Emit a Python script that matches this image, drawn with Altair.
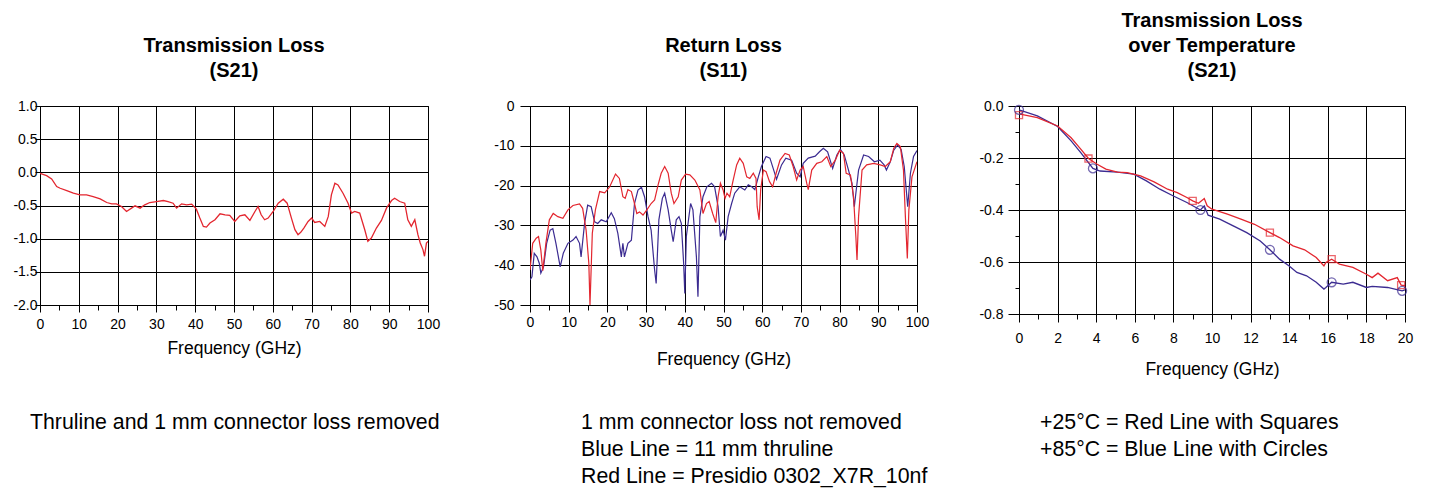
import altair as alt
import pandas as pd

FONT = "Liberation Sans"
RED = "#E3262F"
BLUE = "#3B2B91"

# ---------------- Panel 1: Transmission Loss (S21) ----------------
tl_freq = [0, 1.7, 3, 4.3, 5.2, 6.9, 8.6, 10.3, 12, 13.7,
           15.5, 17.2, 18.5, 19.7, 21, 22.3, 23.6, 24.5, 25.8, 27,
           28.3, 30, 31.8, 33, 34.3, 35.2, 36.5, 37.8, 39.1, 40.3,
           41.2, 42.1, 42.9, 43.8, 45.1, 46.4, 47.7, 48.9, 50.2, 51.5,
           52.8, 54.1, 55.4, 56.2, 57, 57.9, 58.8, 60.1, 61.4, 62.7,
           63.7, 64.8, 65.7, 66.5, 67.2, 68, 69.1, 70, 70.8, 72.1,
           73.4, 74.3, 75.1, 76, 76.8, 78.1, 79.4, 80.3, 81.1, 82.4,
           83.7, 84.5, 85.4, 86.7, 88, 89.3, 90.6, 91.4, 92.7, 94,
           94.8, 95.7, 96.6, 97.4, 98, 98.7, 99.1, 99.6, 100]
tl_s21 = [-0.015, -0.05, -0.1, -0.215, -0.24, -0.275, -0.315, -0.34, -0.34, -0.365,
          -0.4, -0.455, -0.475, -0.475, -0.515, -0.59, -0.54, -0.505, -0.54, -0.49,
          -0.455, -0.44, -0.425, -0.44, -0.465, -0.54, -0.475, -0.49, -0.48, -0.555,
          -0.69, -0.815, -0.825, -0.765, -0.715, -0.625, -0.64, -0.65, -0.74, -0.655,
          -0.64, -0.725, -0.59, -0.515, -0.64, -0.715, -0.69, -0.59, -0.465, -0.405,
          -0.465, -0.69, -0.865, -0.94, -0.905, -0.84, -0.74, -0.69, -0.755, -0.74,
          -0.815, -0.665, -0.34, -0.165, -0.19, -0.315, -0.465, -0.615, -0.59, -0.615,
          -0.865, -1.04, -0.99, -0.84, -0.725, -0.54, -0.425, -0.39, -0.44, -0.465,
          -0.715, -0.815, -0.715, -0.94, -1.065, -1.165, -1.265, -1.065, -1.04]

# ---------------- Panel 2: Return Loss (S11) ----------------
rl_red_freq = [0, 0.7, 1.6, 2.2, 2.8, 3.3, 4.1, 5, 6, 7.2,
               8.5, 9.8, 11.1, 12.8, 13.6, 14.5, 15.2, 15.5, 16.1, 16.9,
               18, 19.3, 20.6, 22.1, 23.1, 24, 24.6, 25.3, 26.2, 27,
               27.6, 28.3, 29.2, 30.2, 31.3, 32.2, 33.1, 33.9, 34.8, 35.7,
               36.5, 37.2, 38.3, 39.1, 40.2, 41.3, 42.6, 43.9, 44.7, 45.6,
               46.3, 47.2, 48, 48.6, 49.2, 49.9, 50.4, 50.9, 51.6, 52.5,
               53.4, 54.2, 55.1, 56, 56.8, 57.7, 58.4, 58.7, 59.2, 59.6,
               60.3, 61, 61.9, 62.7, 63.6, 64.6, 65.9, 67, 68, 68.9,
               69.8, 70.6, 71.5, 71.9, 72.8, 74.1, 75.4, 76.7, 77.7, 78.9,
               80, 81, 81.7, 82.8, 83.6, 84.2, 84.5, 84.9, 85.8, 87,
               88.8, 90.5, 91.8, 93.1, 94, 94.8, 95.7, 96.5, 97, 97.5,
               97.9, 98.7, 100]
rl_red_db = [-41.2, -34.5, -33.2, -32.8, -36.2, -41.4, -34.5, -28.6, -27, -27.8,
             -28.2, -26.1, -25, -24.6, -25.7, -31.2, -39.5, -50, -32, -26.1,
             -21.5, -21.8, -20.3, -17.1, -18.2, -22.8, -23.2, -21, -21.5, -24.5,
             -27, -26.6, -27.4, -26.1, -24.5, -23.6, -19.8, -16.9, -15.2, -16.9,
             -21.9, -24.5, -22.8, -18.6, -17.1, -17.3, -18.6, -21.1, -27, -24.5,
             -24, -27, -29.3, -22.8, -19.4, -21.1, -23.2, -21.9, -22.8, -18.6,
             -14.8, -13.1, -14.4, -17.8, -18.2, -16.9, -18.2, -25.3, -28.6, -21.1,
             -16.1, -16.5, -19, -20.3, -16.9, -13.6, -11.9, -12.3, -15.2, -18.6,
             -16.1, -15.2, -19.4, -21, -16.1, -14.4, -14, -12.7, -15.2, -13.6,
             -11.1, -11.9, -16.9, -17.3, -22.8, -32.8, -38.7, -27.8, -16.1, -14.8,
             -14.4, -14.8, -15.2, -14, -10.6, -9.4, -10.2, -16.1, -27.8, -38.3,
             -26.1, -17.8, -14]
rl_blue_freq = [0, 0.5, 1.1, 1.8, 2.4, 2.8, 3.5, 4.3, 5.2, 5.9,
                6.7, 7.8, 8.6, 9.8, 11.1, 11.9, 12.8, 13.2, 14.1, 14.9,
                15.8, 16.7, 17.5, 18.4, 19.7, 21, 21.8, 22.7, 23.6, 24,
                24.4, 25.3, 26.2, 27, 27.9, 28.8, 29.6, 30.5, 31.3, 32.2,
                32.6, 33.3, 34.2, 34.8, 35.7, 36.5, 37, 37.8, 38.5, 39.1,
                39.7, 40, 40.4, 41.5, 42.1, 43, 43.4, 43.9, 44.7, 45.7,
                46.9, 47.7, 48.6, 49.2, 49.9, 50.5, 51.2, 52.1, 52.9, 54.2,
                55.5, 56.4, 57.3, 58.1, 59, 59.8, 61, 62, 63.1, 63.7,
                65, 66.1, 67.6, 68.9, 69.8, 70.6, 71.9, 73.7, 74.8, 75.8,
                76.9, 78.2, 79.3, 80.2, 81.2, 82.3, 83.2, 83.8, 84.3, 84.9,
                86.2, 87.5, 89, 90.4, 91.5, 92.1, 93.1, 94, 95, 95.9,
                96.7, 97.6, 98.3, 99.1, 100]
rl_blue_db = [-43.7, -42.9, -37, -37.9, -39.5, -42, -40.4, -34.5, -31.2, -30.8,
              -34.5, -40.4, -37, -34.5, -33.7, -32.8, -34.5, -37.9, -29.5, -24.9,
              -25.3, -29.1, -29.5, -28.6, -29.1, -26.8, -28.3, -32, -37.9, -34.5,
              -37.9, -34.5, -33.7, -24.5, -21.1, -20.4, -22.8, -27.8, -31.2, -41.2,
              -44.6, -28.6, -23.2, -21.9, -26.1, -31.2, -34.1, -28.6, -27.8, -29.5,
              -39.5, -47.1, -32.8, -24.5, -26.1, -37.9, -47.9, -27.8, -22.8, -20.3,
              -19.4, -20.3, -25.3, -32.8, -31.2, -33.7, -27.8, -24.5, -21.9, -20.3,
              -21.1, -19.8, -20.3, -21, -17.8, -15.2, -12.7, -13.1, -16.5, -18.4,
              -14.8, -13.1, -13.6, -16.9, -17.8, -14.4, -13.1, -12.6, -11.5, -10.6,
              -11.5, -15.7, -12.3, -10.9, -12.3, -16.1, -19.4, -25.3, -21.1, -16.1,
              -12.3, -12.7, -14, -13.6, -14.8, -16.1, -14, -11.1, -9.8, -10.9,
              -15.2, -25.3, -16.9, -12.7, -11.2]

# ---------------- Panel 3: Transmission Loss over Temperature ----------------
t25_freq = [0, 0.95, 2, 2.7, 3.2, 3.6, 4.05, 4.5, 5.1, 5.6,
            6.3, 7, 7.7, 8.2, 8.7, 9.0, 9.3, 9.6, 9.75, 10,
            10.8, 11.5, 12.2, 13, 13.5, 14.2, 14.8, 15.4, 15.8, 15.9,
            16.2, 16.6, 17.3, 18, 18.3, 18.6, 19.1, 19.6, 19.8, 20]
t25_s21 = [-0.03, -0.045, -0.077, -0.122, -0.166, -0.202, -0.224, -0.243, -0.254, -0.256,
           -0.269, -0.292, -0.32, -0.333, -0.352, -0.365, -0.374, -0.356, -0.384, -0.397,
           -0.416, -0.435, -0.455, -0.487, -0.506, -0.538, -0.553, -0.583, -0.615, -0.602,
           -0.589, -0.608, -0.621, -0.647, -0.66, -0.643, -0.672, -0.66, -0.689, -0.691]
t85_freq = [0, 0.95, 2, 2.7, 3.2, 3.83, 4.2, 5.1, 5.95, 6.6,
            7.3, 8, 8.7, 9.4, 9.6, 9.8, 10.4, 11.1, 11.8, 12.5,
            13, 13.5, 14, 14.4, 14.9, 15.4, 15.8, 15.9, 16.2, 16.8,
            17.3, 18, 18.3, 19.1, 19.85, 20]
t85_s21 = [-0.015, -0.038, -0.079, -0.134, -0.179, -0.24, -0.25, -0.254, -0.262, -0.288,
           -0.32, -0.346, -0.371, -0.4, -0.384, -0.42, -0.435, -0.461, -0.487, -0.519,
           -0.553, -0.589, -0.615, -0.64, -0.653, -0.678, -0.704, -0.698, -0.678, -0.685,
           -0.678, -0.698, -0.694, -0.698, -0.711, -0.707]
sq_freq = [0, 3.6, 9.0, 13, 16.2, 19.8]
sq_s21 = [-0.035, -0.202, -0.365, -0.487, -0.589, -0.689]
ci_freq = [0, 3.83, 9.4, 13, 16.2, 19.85]
ci_s21 = [-0.015, -0.24, -0.4, -0.553, -0.678, -0.711]

# ---------------- Text ----------------
title1 = ["Transmission Loss", "(S21)"]
title2 = ["Return Loss", "(S11)"]
title3 = ["Transmission Loss", "over Temperature", "(S21)"]
x_title = "Frequency (GHz)"
caption1 = ["Thruline and 1 mm connector loss removed"]
caption2 = ["1 mm connector loss not removed", "Blue Line = 11 mm thruline",
            "Red Line = Presidio 0302_X7R_10nf"]
caption3 = ["+25°C = Red Line with Squares", "+85°C = Blue Line with Circles"]

x1_ticks = list(range(0, 101, 5))
x3_ticks = list(range(0, 21, 1))
y1_ticks = [-2.0, -1.5, -1.0, -0.5, 0.0, 0.5, 1.0]
y2_ticks = [-50, -40, -30, -20, -10, 0]
y3_ticks = [-0.8, -0.7, -0.6, -0.5, -0.4, -0.3, -0.2, -0.1, 0.0]


def cond(test, yes, no):
    return {"condition": {"test": test, "value": yes}, "value": no}


def x_axis(ticks, major, label_pad, title_pad, big_tick):
    minor = f"datum.value % {major} !== 0"
    return alt.Axis(values=ticks, title=x_title, domain=False, grid=True,
                    labelExpr=f"{minor} ? '' : datum.label",
                    gridOpacity=cond(minor, 0, 1),
                    tickSize=cond(minor, 5, big_tick),
                    labelPadding=label_pad, titlePadding=title_pad,
                    labelFlush=False, labelOverlap=False)


def y_axis(ticks, fmt, tick_size, label_pad, minor_test=None):
    lab = f"(datum.value < -1e-9 ? '-' : '') + format(abs(datum.value), '{fmt}')"
    kw = dict(values=ticks, title=None, domain=False, grid=True,
              tickSize=tick_size, labelPadding=label_pad,
              labelFlush=False, labelOverlap=False)
    if minor_test:
        kw["labelExpr"] = f"{minor_test} ? '' : {lab}"
        kw["gridOpacity"] = cond(minor_test, 0, 1)
        kw["tickSize"] = cond(minor_test, 4, tick_size)
    else:
        kw["labelExpr"] = lab
    return alt.Axis(**kw)


one = pd.DataFrame({"k": [0]})


def caption(lines, x, y=306):
    return alt.Chart(one).mark_text(
        align="left", baseline="top", font=FONT, fontSize=21.3, lineHeight=27,
        color="black").encode(x=alt.value(x), y=alt.value(y), text=alt.value(lines))


# Panel 1
X1 = alt.X("f:Q", scale=alt.Scale(domain=[0, 100], nice=False, zero=False),
           axis=x_axis(x1_ticks, 10, 5, 8.5, 7))
Y1 = alt.Y("v:Q", scale=alt.Scale(domain=[-2, 1], nice=False, zero=False),
           axis=y_axis(y1_ticks, ".1f", 5, -2))
df1 = pd.DataFrame({"f": tl_freq, "v": tl_s21})
line1 = alt.Chart(df1).mark_line(color=RED, strokeWidth=1.3, clip=True).encode(x=X1, y=Y1)
p1 = alt.layer(line1, caption(caption1, -10)).properties(
    width=388, height=199, title=alt.TitleParams(title1))

# Panel 2
X2 = alt.X("f:Q", scale=alt.Scale(domain=[0, 100], nice=False, zero=False),
           axis=x_axis(x1_ticks, 10, 3.5, 21, 7))
Y2 = alt.Y("v:Q", scale=alt.Scale(domain=[-50, 0], nice=False, zero=False),
           axis=y_axis(y2_ticks, "d", 10, 6))
df2r = pd.DataFrame({"f": rl_red_freq, "v": rl_red_db})
df2b = pd.DataFrame({"f": rl_blue_freq, "v": rl_blue_db})
blue2 = alt.Chart(df2b).mark_line(color=BLUE, strokeWidth=1.2, clip=True).encode(x=X2, y=Y2)
red2 = alt.Chart(df2r).mark_line(color=RED, strokeWidth=1.2, clip=True).encode(x=X2, y=Y2)
p2 = alt.layer(blue2, red2, caption(caption2, 51)).properties(
    width=387, height=199, title=alt.TitleParams(title2))

# Panel 3
minor3 = "abs(round(datum.value * 10)) % 2 === 1"
X3 = alt.X("f:Q", scale=alt.Scale(domain=[0, 20], nice=False, zero=False),
           axis=x_axis(x3_ticks, 2, 9.5, 15, 8))
Y3 = alt.Y("v:Q", scale=alt.Scale(domain=[-0.8, 0], nice=False, zero=False),
           axis=y_axis(y3_ticks, ".1f", 11, 5, minor3))
df3r = pd.DataFrame({"f": t25_freq, "v": t25_s21})
df3b = pd.DataFrame({"f": t85_freq, "v": t85_s21})
dsq = pd.DataFrame({"f": sq_freq, "v": sq_s21})
dci = pd.DataFrame({"f": ci_freq, "v": ci_s21})
blue3 = alt.Chart(df3b).mark_line(color=BLUE, strokeWidth=1.3, clip=True).encode(x=X3, y=Y3)
red3 = alt.Chart(df3r).mark_line(color=RED, strokeWidth=1.3, clip=True).encode(x=X3, y=Y3)
sq3 = alt.Chart(dsq).mark_point(shape="square", filled=False, color=RED, size=50,
                                strokeWidth=1.3).encode(x=X3, y=Y3)
ci3 = alt.Chart(dci).mark_point(shape="circle", filled=False, color=BLUE, size=80,
                                strokeWidth=1.3).encode(x=X3, y=Y3)
p3 = alt.layer(blue3, red3, sq3, ci3, caption(caption3, 21)).properties(
    width=386, height=208, title=alt.TitleParams(title3))

chart = alt.hconcat(p1, p2, p3, spacing=102, bounds="flush").properties(
    padding={"left": 4, "top": 2, "right": 5, "bottom": 5}
).configure_view(stroke="black", strokeWidth=1).configure_axis(
    labelFont=FONT, titleFont=FONT, labelColor="black", titleColor="black",
    labelFontSize=14, titleFontSize=17.5, titleFontWeight="normal",
    tickColor="black", gridColor="black", gridWidth=1, tickWidth=1
).configure_title(
    font=FONT, fontSize=20, fontWeight="bold", anchor="middle", lineHeight=25,
    offset=18, color="black"
)

chart.save("out.html", embed_options={"renderer": "svg", "actions": False})
